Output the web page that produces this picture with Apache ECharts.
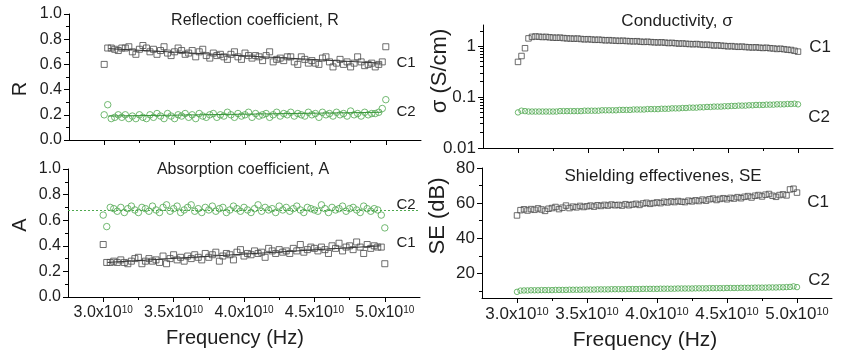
<!DOCTYPE html>
<html><head><meta charset="utf-8">
<script src="https://cdn.jsdelivr.net/npm/echarts@6/dist/echarts.min.js"></script>
<style>html,body{margin:0;padding:0;background:#fff}#c{width:844px;height:350px}</style>
</head><body><div id="c"></div>
<script>
// Frequencies in units of 1e10 Hz
const freqE10 = [3,3.025,3.05,3.075,3.1,3.125,3.15,3.175,3.2,3.225,3.25,3.275,3.3,3.325,3.35,3.375,3.4,3.425,3.45,3.475,3.5,3.525,3.55,3.575,3.6,3.625,3.65,3.675,3.7,3.725,3.75,3.775,3.8,3.825,3.85,3.875,3.9,3.925,3.95,3.975,4,4.025,4.05,4.075,4.1,4.125,4.15,4.175,4.2,4.225,4.25,4.275,4.3,4.325,4.35,4.375,4.4,4.425,4.45,4.475,4.5,4.525,4.55,4.575,4.6,4.625,4.65,4.675,4.7,4.725,4.75,4.775,4.8,4.825,4.85,4.875,4.9,4.925,4.95,4.975,5];

// Reflection coefficient R
const rC1 = [0.60,0.73,0.73,0.72,0.71,0.73,0.73,0.74,0.70,0.68, 0.72,0.75,0.73,0.70,0.72,0.68,0.71,0.74,0.69,0.67, 0.70,0.73,0.71,0.68,0.69,0.71,0.66,0.70,0.72,0.67, 0.65,0.69,0.67,0.68,0.66,0.64,0.68,0.70,0.66,0.64, 0.69,0.67,0.65,0.67,0.66,0.63,0.67,0.70,0.62,0.64, 0.65,0.63,0.66,0.66,0.62,0.60,0.66,0.64,0.61,0.63, 0.61,0.60,0.65,0.66,0.62,0.58,0.61,0.64,0.60,0.62, 0.58,0.61,0.66,0.62,0.59,0.60,0.61,0.58,0.60,0.62, 0.74];
const rC2 = [0.20,0.28,0.17,0.18,0.20,0.18,0.20,0.17,0.19,0.17, 0.20,0.18,0.17,0.20,0.18,0.21,0.19,0.17,0.21,0.19, 0.17,0.20,0.19,0.21,0.18,0.20,0.17,0.21,0.19,0.18, 0.20,0.21,0.18,0.20,0.19,0.22,0.20,0.18,0.21,0.19, 0.20,0.22,0.18,0.21,0.19,0.20,0.21,0.18,0.20,0.22, 0.19,0.21,0.20,0.22,0.19,0.21,0.20,0.19,0.22,0.20, 0.21,0.18,0.22,0.20,0.21,0.19,0.22,0.20,0.21,0.19, 0.23,0.20,0.21,0.19,0.22,0.20,0.21,0.21,0.22,0.25, 0.32];

// Absorption coefficient A
const aC2 = [0.64,0.55,0.70,0.69,0.67,0.70,0.66,0.69,0.71,0.68, 0.66,0.70,0.69,0.67,0.71,0.68,0.66,0.70,0.72,0.67, 0.69,0.71,0.66,0.68,0.70,0.72,0.67,0.69,0.66,0.70, 0.68,0.71,0.67,0.69,0.70,0.66,0.68,0.71,0.69,0.67, 0.70,0.68,0.66,0.69,0.72,0.67,0.70,0.68,0.69,0.66, 0.71,0.68,0.70,0.67,0.69,0.71,0.68,0.66,0.70,0.69, 0.68,0.67,0.72,0.69,0.66,0.70,0.68,0.69,0.71,0.67, 0.69,0.70,0.68,0.66,0.71,0.69,0.67,0.69,0.68,0.64, 0.54];
const aC1 = [0.41,0.27,0.27,0.28,0.27,0.29,0.27,0.26,0.28,0.30, 0.31,0.26,0.28,0.30,0.28,0.29,0.27,0.32,0.26,0.30, 0.33,0.29,0.31,0.28,0.32,0.30,0.33,0.31,0.29,0.34, 0.31,0.33,0.35,0.28,0.32,0.34,0.33,0.29,0.35,0.37, 0.32,0.34,0.33,0.36,0.34,0.35,0.31,0.38,0.36,0.34, 0.37,0.35,0.36,0.34,0.38,0.36,0.41,0.35,0.37,0.39, 0.38,0.36,0.39,0.37,0.34,0.40,0.38,0.42,0.36,0.39, 0.40,0.37,0.43,0.39,0.34,0.41,0.38,0.40,0.39,0.39, 0.26];

// Linear fits (end points)
const fitX = [3.03, 4.97];
const rFitC1 = [0.725, 0.61];
const rFitC2 = [0.19, 0.22];
const aFitC1 = [0.27, 0.40];
const aLevelC2 = 0.68;

// Conductivity sigma (S/cm)
const sC1 = [0.49,0.64,0.91,1.42,1.52,1.55,1.53,1.51,1.52,1.49, 1.47,1.46,1.47,1.44,1.42,1.41,1.40,1.41,1.38,1.36, 1.37,1.35,1.33,1.34,1.32,1.30,1.31,1.29,1.28,1.27, 1.28,1.26,1.25,1.24,1.25,1.22,1.21,1.22,1.20,1.19, 1.18,1.19,1.17,1.15,1.16,1.14,1.12,1.13,1.11,1.10, 1.09,1.10,1.08,1.06,1.07,1.05,1.03,1.04,1.02,1.01, 0.99,1.00,0.98,0.97,0.98,0.96,0.95,0.94,0.95,0.93, 0.92,0.93,0.91,0.90,0.88,0.89,0.87,0.85,0.84,0.81, 0.78];
const sC2 = [0.050,0.054,0.053,0.052,0.052,0.052,0.052,0.052,0.052,0.052, 0.052,0.052,0.053,0.053,0.053,0.053,0.053,0.053,0.053,0.054, 0.054,0.054,0.054,0.054,0.055,0.055,0.055,0.055,0.055,0.056, 0.056,0.056,0.056,0.057,0.057,0.057,0.057,0.058,0.058,0.058, 0.058,0.059,0.059,0.059,0.060,0.060,0.060,0.061,0.061,0.062, 0.062,0.062,0.063,0.063,0.064,0.064,0.065,0.065,0.065,0.066, 0.066,0.067,0.067,0.068,0.068,0.068,0.069,0.069,0.070,0.070, 0.070,0.071,0.071,0.071,0.072,0.072,0.072,0.073,0.073,0.074, 0.072];

// Shielding effectiveness SE (dB)
const seC1 = [53.0,56.0,56.5,55.8,56.6,56.2,57.0,56.4,55.6,56.8, 57.2,57.8,56.6,57.4,58.6,57.2,58.0,57.6,58.4,57.8, 58.2,58.6,58.0,58.8,58.4,59.0,58.6,59.2,58.8,59.0, 58.6,59.4,58.8,59.2,59.6,59.0,59.8,60.2,59.6,60.0, 60.4,60.0,60.8,60.4,61.0,60.6,61.2,60.8,60.6,61.4, 61.0,61.6,61.2,62.0,61.4,62.2,62.6,61.8,62.4,62.8, 62.2,63.0,62.6,63.4,62.8,63.6,64.0,63.2,64.2,64.6, 63.8,64.8,65.2,64.2,63.6,64.6,65.0,64.4,67.8,68.2, 66.0];
const seC2 = [9.5,10.2,10.3,10.3,10.4,10.4,10.4,10.5,10.5,10.5, 10.5,10.6,10.6,10.6,10.6,10.7,10.7,10.7,10.7,10.8, 10.8,10.8,10.8,10.9,10.9,10.9,10.9,11.0,11.0,11.0, 11.0,11.0,11.1,11.1,11.1,11.1,11.2,11.2,11.2,11.2, 11.2,11.3,11.3,11.3,11.3,11.3,11.4,11.4,11.4,11.4, 11.4,11.5,11.5,11.5,11.5,11.6,11.6,11.6,11.6,11.6, 11.7,11.7,11.7,11.7,11.8,11.8,11.8,11.8,11.9,11.9, 11.9,11.9,12.0,12.0,12.0,12.1,12.1,12.2,12.3,12.6, 12.2];

// Axis ticks
const xMajorE10 = [3.0, 3.5, 4.0, 4.5, 5.0];
const xMinorE10 = [3.25, 3.75, 4.25, 4.75];
const seMajor = [20, 40, 60, 80];
const seMinor = [10, 30, 50, 70];
const sigmaMin = 0.01, sigmaMax = 2.6;
const sigmaMinor = [0.02,0.03,0.04,0.05,0.06,0.07,0.08,0.09,0.2,0.3,0.4,0.5,0.6,0.7,0.8,0.9,2];

const E10 = 1e10;
const FONT = '"Liberation Sans", Arial, Helvetica, sans-serif';
const TXT = '#1e1e1e';
const GRAY = '#4a4a4a';
const GREEN = '#4fa84f';
const xy = ys => ys.map((y, i) => [freqE10[i] * E10, y]);
const fit = ys => ys.map((y, i) => [fitX[i] * E10, y]);

const grids = [
  {left: 69, top: 14, width: 352, height: 126},
  {left: 68, top: 169, width: 352, height: 128},
  {left: 483, top: 25, width: 350, height: 123},
  {left: 482, top: 168, width: 350, height: 130}
];

const axLine = {show: true, onZero: false, lineStyle: {color: '#000', width: 1}};
function mainX(gi, showLabels, big) {
  return {
    type: 'value', gridIndex: gi, position: 'bottom', min: 2.75 * E10, max: 5.25 * E10,
    axisLine: axLine, splitLine: {show: false},
    axisTick: {show: true, length: 5, lineStyle: {color: '#000'}, customValues: xMajorE10.map(v => v * E10)},
    axisLabel: {
      show: showLabels, margin: 8, customValues: xMajorE10.map(v => v * E10),
      formatter: v => '{a|' + (v / E10).toFixed(1) + 'x10}{b|10}',
      rich: {
        a: {fontSize: big ? 17 : 16, lineHeight: big ? 17 : 16, verticalAlign: 'bottom', color: TXT, fontFamily: FONT},
        b: {fontSize: big ? 11 : 10, lineHeight: big ? 11 : 10, verticalAlign: 'top', padding: [0, 0, big ? 11 : 10, 0], color: TXT, fontFamily: FONT}
      }
    }
  };
}
function minorX(gi) {
  return {
    type: 'value', gridIndex: gi, position: 'bottom', offset: 0, min: 2.75 * E10, max: 5.25 * E10,
    axisLine: {show: false, onZero: false}, splitLine: {show: false}, axisLabel: {show: false},
    axisTick: {show: true, length: 3, lineStyle: {color: '#000'}, customValues: xMinorE10.map(v => v * E10)}
  };
}
function unitY(gi) {
  return {
    type: 'value', gridIndex: gi, position: 'left', min: 0, max: 1, interval: 0.2,
    axisLine: axLine, splitLine: {show: false},
    axisTick: {show: true, length: 5, lineStyle: {color: '#000'}},
    minorTick: {show: true, splitNumber: 2, length: 3, lineStyle: {color: '#000'}},
    axisLabel: {margin: 7, fontSize: 16, color: TXT, fontFamily: FONT, formatter: v => v.toFixed(1)}
  };
}

const sq = (gi, data, size) => ({
  type: 'scatter', xAxisIndex: gi, yAxisIndex: gi, data, symbol: 'rect', symbolSize: size,
  itemStyle: {color: 'rgba(0,0,0,0)', borderColor: GRAY, borderWidth: 1}, silent: true
});
const ci = (gi, data, size) => ({
  type: 'scatter', xAxisIndex: gi, yAxisIndex: gi, data, symbol: 'circle', symbolSize: size,
  itemStyle: {color: 'rgba(0,0,0,0)', borderColor: GREEN, borderWidth: 1}, silent: true
});
const ln = (gi, data, color) => ({
  type: 'line', xAxisIndex: gi, yAxisIndex: gi, data, showSymbol: false, symbol: 'none',
  lineStyle: {color, width: 1}, silent: true, z: 3
});

function txt(x, y, text, size, rot) {
  return {type: 'text', x, y, rotation: rot || 0, silent: true,
    style: {text, fill: TXT, font: size + 'px ' + FONT, align: 'center', verticalAlign: 'middle'}};
}

const chart = echarts.init(document.getElementById('c'), null, {renderer: 'canvas'});
chart.setOption({
  animation: false,
  backgroundColor: '#fff',
  textStyle: {fontFamily: FONT},
  grid: grids,
  xAxis: [mainX(0, false), mainX(1, true), mainX(2, false, true), mainX(3, true, true),
          minorX(0), minorX(1), minorX(2), minorX(3)],
  yAxis: [
    unitY(0), unitY(1),
    {
      type: 'log', gridIndex: 2, position: 'left', min: sigmaMin, max: sigmaMax, logBase: 10,
      axisLine: axLine, splitLine: {show: false},
      axisTick: {show: true, length: 5, lineStyle: {color: '#000'}},
      axisLabel: {margin: 7, fontSize: 17, color: TXT, fontFamily: FONT, showMaxLabel: false,
        formatter: v => String(v)}
    },
    {
      type: 'value', gridIndex: 3, position: 'left', min: 6, max: 80,
      axisLine: axLine, splitLine: {show: false},
      axisTick: {show: true, length: 5, lineStyle: {color: '#000'}, customValues: seMajor},
      axisLabel: {margin: 7, fontSize: 17, color: TXT, fontFamily: FONT, customValues: seMajor}
    },
    {
      type: 'value', gridIndex: 3, position: 'left', offset: 0, min: 6, max: 80,
      axisLine: {show: false, onZero: false}, splitLine: {show: false}, axisLabel: {show: false},
      axisTick: {show: true, length: 3, lineStyle: {color: '#000'}, customValues: seMinor}
    },
    {
      // minor ticks of the log axis, placed in log10 space
      type: 'value', gridIndex: 2, position: 'left', offset: 0,
      min: Math.log10(sigmaMin), max: Math.log10(sigmaMax),
      axisLine: {show: false, onZero: false}, splitLine: {show: false}, axisLabel: {show: false},
      axisTick: {show: true, length: 3, lineStyle: {color: '#000'}, customValues: sigmaMinor.map(v => Math.log10(v))}
    }
  ],
  series: [
    sq(0, xy(rC1), 6), ci(0, xy(rC2), 6.5), ln(0, fit(rFitC1), '#333'), ln(0, fit(rFitC2), '#3a963a'),
    Object.assign(ci(1, xy(aC2), 6.5), {
      markLine: {silent: true, symbol: 'none', label: {show: false},
        lineStyle: {color: GREEN, type: [2, 2], width: 1.2}, data: [{yAxis: aLevelC2}]}
    }),
    sq(1, xy(aC1), 6), ln(1, fit(aFitC1), '#333'),
    sq(2, xy(sC1), 5.5), ci(2, xy(sC2), 5.5),
    sq(3, xy(seC1), 5.5), ci(3, xy(seC2), 5.5)
  ],
  graphic: [
    txt(255, 21, 'Reflection coefficient, R', 16),
    txt(243, 170, 'Absorption coefficient, A', 16),
    txt(677, 21, 'Conductivity, σ', 17),
    txt(663, 176, 'Shielding effectivenes, SE', 17),
    txt(20, 89, 'R', 20, Math.PI / 2),
    txt(20, 225, 'A', 20, Math.PI / 2),
    txt(440, 71, 'σ (S/cm)', 22, Math.PI / 2),
    txt(438, 216, 'SE (dB)', 22, Math.PI / 2),
    txt(235, 338, 'Frequency (Hz)', 20),
    txt(645, 340, 'Frequency (Hz)', 21),
    txt(406, 63, 'C1', 15), txt(406, 112, 'C2', 15),
    txt(406, 205, 'C2', 15), txt(406, 243, 'C1', 15),
    txt(820, 47, 'C1', 17), txt(819, 117, 'C2', 17),
    txt(818, 202, 'C1', 17), txt(819, 280, 'C2', 17)
  ]
});
</script>
</body></html>
